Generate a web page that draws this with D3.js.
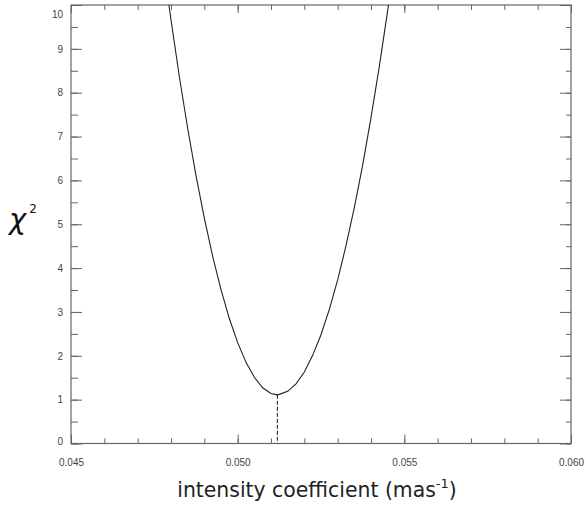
<!DOCTYPE html>
<html>
<head>
<meta charset="utf-8">
<script src="https://cdn.jsdelivr.net/npm/d3@7"></script>
<style>
  body { margin: 0; background: #fff; }
  svg { display: block; }
</style>
</head>
<body>
<svg id="chart"></svg>
<script>
// chi^2 vs intensity coefficient
let coeff = [0.04775, 0.04800, 0.04825, 0.04850, 0.04875, 0.04900, 0.04925, 0.04950, 0.04975, 0.05000,
             0.05025, 0.05050, 0.05075, 0.05100, 0.05119, 0.05125, 0.05150, 0.05175, 0.05200, 0.05225,
             0.05250, 0.05275, 0.05300, 0.05325, 0.05350, 0.05375, 0.05400, 0.05425, 0.05450, 0.05475];
let chi2  = [11.05, 9.66, 8.37, 7.19, 6.11, 5.14, 4.27, 3.51, 2.85, 2.30,
             1.85, 1.51, 1.27, 1.14, 1.11, 1.12, 1.19, 1.36, 1.63, 2.01,
             2.48, 3.06, 3.73, 4.51, 5.38, 6.35, 7.43, 8.60, 9.87, 11.25];
let bestCoeff = 0.05119;
let bestChi2 = 1.11;

let xMajor = [0.045, 0.050, 0.055, 0.060];
let xMinor = d3.range(0, 16).map(i => 0.045 + i * 0.001);
let yMajor = d3.range(0, 11);
let yMinor = d3.range(0, 21).map(i => i * 0.5);

let w = 586;
let h = 511;
let padLeft = 71, padRight = 571, padTop = 5, padBottom = 443.5;
let axisColor = '#666';
let svg = d3.select('#chart').attr('width', w).attr('height', h);

let xScale = d3.scaleLinear().domain([0.045, 0.060]).range([padLeft, padRight]);
let yScale = d3.scaleLinear().domain([0, 10]).range([padBottom, padTop]);

let styleAxis = g => {
    g.select('.domain').remove();
    g.selectAll('line').attr('stroke', axisColor);
    g.selectAll('text')
        .attr('fill', '#444')
        .style('font-family', '"Liberation Sans", Arial, sans-serif')
        .style('font-size', '10px');
};

// minor ticks
svg.append('g').attr('transform', 'translate(0,' + padBottom + ')')
    .call(d3.axisBottom(xScale).tickValues(xMinor).tickSize(-5).tickFormat('')).call(styleAxis);
svg.append('g').attr('transform', 'translate(0,' + padTop + ')')
    .call(d3.axisTop(xScale).tickValues(xMinor).tickSize(-5).tickFormat('')).call(styleAxis);
svg.append('g').attr('transform', 'translate(' + padLeft + ',0)')
    .call(d3.axisLeft(yScale).tickValues(yMinor).tickSize(-7).tickFormat('')).call(styleAxis);
svg.append('g').attr('transform', 'translate(' + padRight + ',0)')
    .call(d3.axisRight(yScale).tickValues(yMinor).tickSize(-5).tickFormat('')).call(styleAxis);

// major ticks
svg.append('g').attr('transform', 'translate(0,' + padBottom + ')')
    .call(d3.axisBottom(xScale).tickValues(xMajor).tickSize(-9).tickPadding(15).tickFormat(d3.format('.3f')))
    .call(styleAxis);
svg.append('g').attr('transform', 'translate(0,' + padTop + ')')
    .call(d3.axisTop(xScale).tickValues(xMajor).tickSize(-8).tickFormat('')).call(styleAxis);
let yAxisG = svg.append('g').attr('transform', 'translate(' + padLeft + ',0)')
    .call(d3.axisLeft(yScale).tickValues(yMajor).tickSize(-11).tickPadding(8).tickFormat(d3.format('d')))
    .call(styleAxis);
svg.append('g').attr('transform', 'translate(' + padRight + ',0)')
    .call(d3.axisRight(yScale).tickValues(yMajor).tickSize(-11).tickFormat('')).call(styleAxis);

// end labels sit inside the frame
yAxisG.selectAll('text').filter(d => d === 10).attr('dy', '1.22em');
yAxisG.selectAll('text').filter(d => d === 0).attr('dy', '0.07em');

// frame
svg.append('rect')
    .attr('x', padLeft).attr('y', padTop)
    .attr('width', padRight - padLeft).attr('height', padBottom - padTop)
    .attr('fill', 'none').attr('stroke', axisColor).attr('stroke-width', 1.2);

// curve
svg.append('clipPath').attr('id', 'clip')
    .append('rect').attr('x', padLeft).attr('y', padTop).attr('width', padRight - padLeft).attr('height', padBottom - padTop);

let pts = coeff.map((c, i) => [c, chi2[i]]);
let line = d3.line().x(d => xScale(d[0])).y(d => yScale(d[1]));
svg.append('path')
    .datum(pts)
    .attr('clip-path', 'url(#clip)')
    .attr('d', line)
    .attr('fill', 'none')
    .attr('stroke', '#222')
    .attr('stroke-width', 1.1);

svg.append('line')
    .attr('x1', xScale(bestCoeff)).attr('x2', xScale(bestCoeff))
    .attr('y1', yScale(bestChi2)).attr('y2', yScale(0))
    .attr('stroke', '#111')
    .attr('stroke-width', 1)
    .attr('stroke-dasharray', '4,2');

// axis titles
let xTitle = svg.append('text')
    .attr('x', 317).attr('y', 497)
    .attr('text-anchor', 'middle')
    .attr('fill', '#222')
    .style('font-family', '"DejaVu Sans", sans-serif')
    .style('font-size', '20.4px');
xTitle.append('tspan').text('intensity coefficient (mas');
xTitle.append('tspan').attr('dy', -9).style('font-size', '13px').text('-1');
xTitle.append('tspan').attr('dy', 9).text(')');

let yTitle = svg.append('text')
    .attr('x', 9).attr('y', 229)
    .attr('fill', '#111')
    .style('font-family', '"DejaVu Sans", sans-serif');
yTitle.append('tspan').style('font-size', '29px').style('font-style', 'italic').text('χ');
yTitle.append('tspan').attr('dx', 3).attr('dy', -16).style('font-size', '12px').text('2');
</script>
</body>
</html>
